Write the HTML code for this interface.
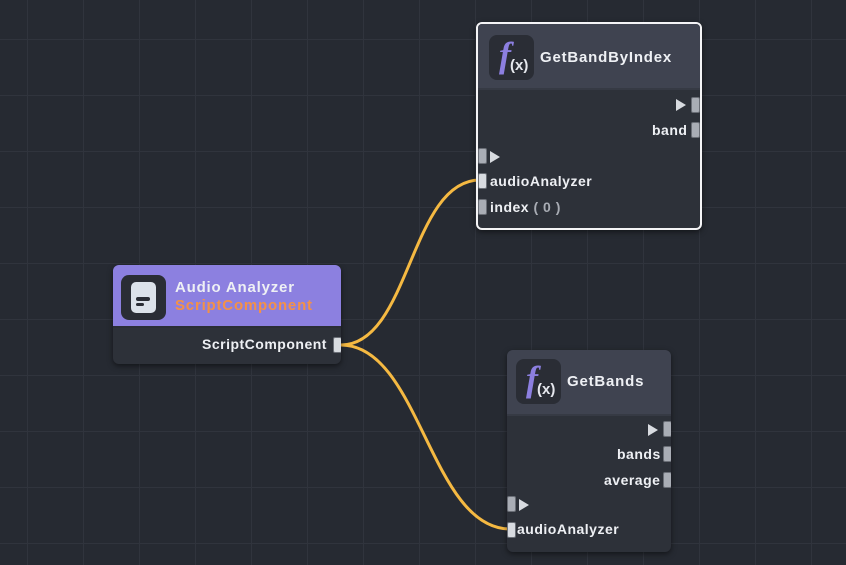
<!DOCTYPE html>
<html><head><style>
body{margin:0;width:846px;height:565px;overflow:hidden;background:#262a32;font-family:"Liberation Sans",sans-serif;position:relative;
background-image:linear-gradient(#30343d 1px,transparent 1px),linear-gradient(90deg,#30343d 1px,transparent 1px);background-size:56px 56px;background-position:27px 39px;}
.node{position:absolute;background:#2d3139;border-radius:6px;box-shadow:0 2px 6px rgba(0,0,0,.5);overflow:hidden}
.hdr{position:absolute;left:0;right:0;top:0;background:#3f4350;border-bottom:2px solid #363a44}
.icon{position:absolute;background:#2a2d35;border-radius:8px;width:45px;height:45px}
.f{position:absolute;left:10px;top:-1px;color:#8c7fe0;font:italic bold 36px "Liberation Serif",serif}
.x{position:absolute;left:21px;top:22px;color:#e6e8ee;font:bold 15px "Liberation Sans",sans-serif}
.t{position:absolute;color:#eef0f4;font-weight:bold;font-size:15px;letter-spacing:.8px}
.lbl{position:absolute;color:#eef0f4;font-weight:bold;font-size:14px;letter-spacing:.5px}
.p{position:absolute;width:9px;height:16px;background:#a9adb5;border:1px solid #6a6e76;border-radius:2px;box-sizing:border-box}
.tri{position:absolute;width:0;height:0;border-top:6px solid transparent;border-bottom:6px solid transparent;border-left:10px solid #d8dbe0}
</style></head><body>
<svg width="846" height="565" style="position:absolute;left:0;top:0">
<path d="M341 345 C410 345,410 180,480 180" stroke="#f5b942" stroke-width="3" fill="none"/>
<path d="M341 345 C420 345,430 529,510 529" stroke="#f5b942" stroke-width="3" fill="none"/>
</svg>

<div class="node" style="left:476px;top:22px;width:226px;height:208px;border:2px solid #f4f4f6;box-sizing:border-box">
 <div class="hdr" style="height:64px"></div>
 <div class="icon" style="left:11px;top:11px"><span class="f">f</span><span class="x">(x)</span></div>
 <div class="t" style="left:62px;top:25px">GetBandByIndex</div>
 <div class="tri" style="left:198px;top:75px"></div><div class="p" style="left:213px;top:73px"></div>
 <div class="lbl" style="left:174px;top:98px">band</div><div class="p" style="left:213px;top:98px"></div>
 <div class="p" style="left:0;top:124px"></div><div class="tri" style="left:12px;top:127px"></div>
 <div class="p" style="left:0;top:149px;background:#d8dbe0"></div><div class="lbl" style="left:12px;top:149px">audioAnalyzer</div>
 <div class="p" style="left:0;top:175px"></div><div class="lbl" style="left:12px;top:175px">index <span style="color:#a8acb4">( 0 )</span></div>
</div>

<div class="node" style="left:113px;top:265px;width:228px;height:99px">
 <div class="hdr" style="height:61px;background:#8c80e0;border-bottom:2px solid #2a2d35"></div>
 <div class="icon" style="left:8px;top:10px;background:#2a2d35"><div style="position:absolute;left:10px;top:7px;width:25px;height:31px;background:#dce2ea;border-radius:5px"></div><div style="position:absolute;left:15px;top:22px;width:14px;height:4px;background:#2a2d35;border-radius:2px"></div><div style="position:absolute;left:15px;top:28px;width:8px;height:3px;background:#2a2d35;border-radius:2px"></div></div>
 <div class="t" style="left:62px;top:14px">Audio Analyzer</div>
 <div class="t" style="left:62px;top:32px;color:#f49147">ScriptComponent</div>
 <div class="lbl" style="left:89px;top:71px">ScriptComponent</div><div class="p" style="left:220px;top:72px;background:#d8dbe0"></div>
</div>

<div class="node" style="left:507px;top:350px;width:164px;height:202px">
 <div class="hdr" style="height:64px"></div>
 <div class="icon" style="left:9px;top:9px"><span class="f">f</span><span class="x">(x)</span></div>
 <div class="t" style="left:60px;top:23px">GetBands</div>
 <div class="tri" style="left:141px;top:74px"></div><div class="p" style="left:156px;top:71px"></div>
 <div class="lbl" style="left:110px;top:96px">bands</div><div class="p" style="left:156px;top:96px"></div>
 <div class="lbl" style="left:97px;top:122px">average</div><div class="p" style="left:156px;top:122px"></div>
 <div class="p" style="left:0;top:146px"></div><div class="tri" style="left:12px;top:149px"></div>
 <div class="p" style="left:0;top:172px;background:#d8dbe0"></div><div class="lbl" style="left:10px;top:171px">audioAnalyzer</div>
</div>
</body></html>
